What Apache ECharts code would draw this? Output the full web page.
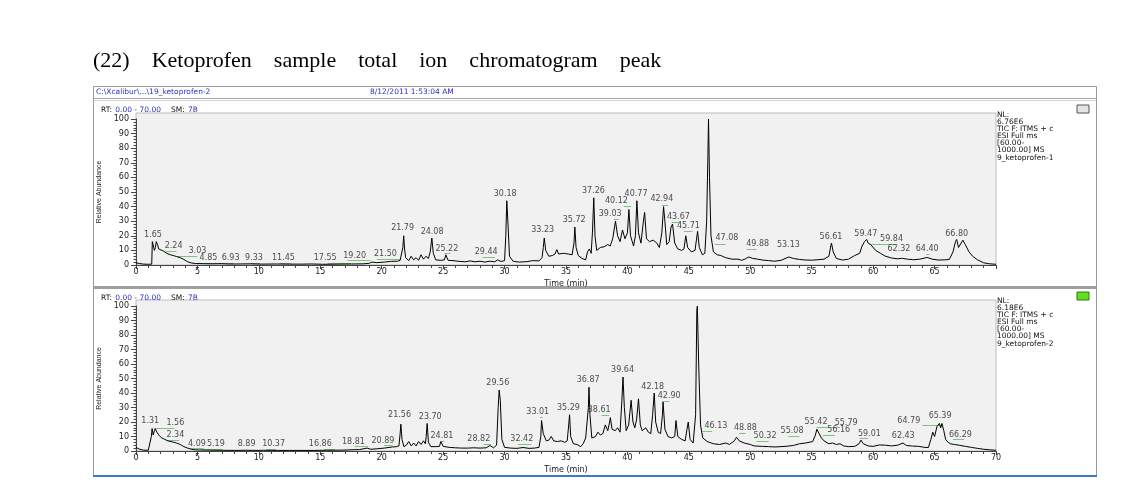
<!DOCTYPE html>
<html>
<head>
<meta charset="utf-8">
<script src="https://cdn.jsdelivr.net/npm/echarts@6/dist/echarts.min.js"></script>
<style>
html, body { margin: 0; padding: 0; background: #fff; }
#main { width: 1144px; height: 492px; }
</style>
</head>
<body>
<div id="main"></div>
<script>
// sample 1 total ion chromatogram, [time (min), relative abundance]
const tic1 = [
  [0,1.5],[0.3,1.0],[0.6,0.6],[1.0,0.5],[1.28,0.6],[1.33,16],[1.42,15],[1.5,10],[1.58,12],[1.65,16],
  [1.75,14],[1.85,11],[2.0,10.5],[2.24,9.5],[2.5,8],[2.8,7],[3.03,6.5],[3.3,5.8],[3.6,5],[3.9,3.8],
  [4.2,2.2],[4.5,1.4],[4.85,1.0],[5.5,0.9],[6.2,0.8],[6.93,0.9],[7.5,0.7],[8.2,0.7],[9.33,0.8],[10.2,0.6],
  [11.45,0.7],[12.5,0.6],[13.5,0.6],[14.3,0.7],[15.2,0.5],[16.5,0.6],[17.55,0.7],[18.5,0.8],[19.0,1.2],[19.2,2.0],
  [19.6,1.6],[20.2,2.0],[20.8,2.5],[21.3,2.6],[21.5,3.2],[21.65,4],[21.72,12],[21.79,20],[21.86,11],[21.95,5],
  [22.2,3],[22.4,6],[22.6,3.5],[22.8,5],[23.0,3.2],[23.2,7],[23.4,4],[23.6,6],[23.8,4.5],[23.95,9],
  [24.08,18.5],[24.2,8],[24.4,3.5],[24.8,3.2],[25.1,3.5],[25.22,7],[25.4,3.2],[25.8,3],[26.3,2.5],[26.8,2.2],
  [27.2,2.8],[27.6,2.2],[28.0,2.6],[28.4,2.0],[28.8,2.6],[29.2,2.2],[29.44,3.5],[29.7,2.4],[30.0,3],[30.1,20],
  [30.18,44],[30.28,28],[30.4,6],[30.7,2.5],[31.2,2],[31.8,2.3],[32.3,3],[32.8,2.8],[33.05,5],[33.15,12],
  [33.23,18.5],[33.35,10],[33.6,6],[33.9,6.5],[34.1,7.5],[34.25,10.5],[34.4,7.5],[34.8,8],[35.2,7.5],[35.5,7],
  [35.65,15],[35.72,26],[35.82,12],[36.0,6.5],[36.3,4.5],[36.6,3.5],[36.75,9],[36.9,11],[37.05,8],[37.15,22],
  [37.26,46],[37.36,20],[37.5,10],[37.8,12],[38.1,12.5],[38.4,14],[38.6,13],[38.8,18],[39.03,30],[39.2,20],
  [39.4,16],[39.6,24],[39.8,18],[40.0,22],[40.12,38],[40.25,20],[40.5,13],[40.65,20],[40.77,44],[40.9,22],
  [41.1,15],[41.3,30],[41.4,36],[41.55,18],[41.8,16],[42.1,17],[42.4,15],[42.6,12],[42.8,22],[42.94,40],
  [43.05,30],[43.2,14],[43.4,16],[43.55,26],[43.67,28],[43.85,15],[44.1,11],[44.4,10],[44.6,11],[44.75,20],
  [44.9,12],[45.2,9],[45.5,10],[45.71,23],[45.85,12],[46.1,7],[46.3,8],[46.45,30],[46.55,75],[46.6,100],
  [46.68,60],[46.8,20],[47.0,9],[47.3,7],[47.6,6.5],[48.0,5],[48.5,4],[49.0,4],[49.3,3.2],[49.6,4.2],
  [49.88,5.5],[50.2,4.5],[50.6,4],[51.0,3.4],[51.5,3],[52.0,2.6],[52.5,3.2],[53.13,5.5],[53.5,4.5],[54.0,3.8],
  [54.5,3.4],[55.0,3.3],[55.5,3.6],[56.0,4],[56.4,6],[56.55,13],[56.61,15],[56.75,9],[57.0,4.5],[57.5,3.4],
  [58.0,4],[58.5,6.5],[58.9,8],[59.1,13],[59.3,16],[59.47,17.5],[59.6,15],[59.8,14],[60.2,10],[60.6,8],
  [61.0,6],[61.5,4.8],[62.0,4.2],[62.32,4.6],[62.8,4],[63.3,3.6],[63.8,4],[64.4,5.2],[64.8,4],[65.3,3.4],
  [65.8,3.5],[66.2,3.8],[66.5,9],[66.7,16],[66.8,17.5],[66.95,12],[67.1,13],[67.3,17],[67.5,14],[67.8,9],
  [68.1,6],[68.5,3.5],[69.0,1.5],[69.5,0.8],[70,0.5]
]

// sample 2 total ion chromatogram
const tic2 = [
  [0,2.5],[0.3,1.2],[0.6,0.6],[1.0,0.5],[1.15,0.6],[1.25,10],[1.31,15.5],[1.4,11],[1.5,14],[1.56,15.5],
  [1.7,13],[1.9,10.5],[2.1,9],[2.34,8],[2.6,7],[3.0,6.2],[3.3,5.5],[3.6,4.5],[3.9,3],[4.2,2],
  [4.5,1.2],[4.8,0.8],[5.19,0.7],[6,0.6],[7,0.5],[8,0.4],[8.89,0.5],[10,0.4],[10.37,0.5],[11.5,0.4],
  [12.5,0.4],[13.5,0.4],[14.5,0.4],[15.5,0.5],[16.86,0.6],[17.5,0.8],[18.2,1.0],[18.81,2.0],[19.1,1.2],[19.6,1.5],
  [20.2,2.0],[20.89,2.8],[21.2,3],[21.4,3.5],[21.5,12],[21.56,18.5],[21.65,8],[21.8,3],[22.0,4],[22.2,6.5],
  [22.4,3.5],[22.6,5.5],[22.8,3.5],[23.0,6.5],[23.2,4.5],[23.4,7],[23.55,5],[23.62,10],[23.7,19],[23.8,6],
  [24.0,3],[24.4,3],[24.7,3.2],[24.81,6.5],[25.0,3.2],[25.5,2.5],[26,2.2],[26.5,2.0],[27,2],[27.5,2.2],
  [28,2],[28.5,2.2],[28.82,3.8],[29.1,2.2],[29.35,4],[29.48,30],[29.56,42],[29.65,35],[29.78,8],[30.0,2.5],
  [30.5,2],[31.0,1.8],[31.5,2.4],[32.0,1.8],[32.42,2],[32.8,2.5],[32.95,10],[33.01,21],[33.15,12],[33.4,7],
  [33.6,7.5],[33.8,10],[34.0,7],[34.3,6.5],[34.6,7],[34.9,6],[35.1,7],[35.22,18],[35.29,25],[35.38,10],
  [35.6,5],[35.9,4.5],[36.2,3],[36.4,5],[36.6,9],[36.75,8],[36.82,30],[36.87,44],[36.95,25],[37.1,9],
  [37.4,10],[37.6,13],[37.8,11],[38.0,12],[38.2,18],[38.4,14],[38.55,20],[38.61,23],[38.75,15],[39.0,14],
  [39.2,16],[39.4,13],[39.55,35],[39.64,51],[39.75,30],[39.9,14],[40.1,18],[40.3,35],[40.45,20],[40.6,16],
  [40.75,22],[40.9,36],[41.05,18],[41.2,14],[41.5,16],[41.7,13],[41.9,12],[42.05,25],[42.18,40],[42.3,20],
  [42.5,13],[42.7,12],[42.85,25],[42.9,34],[43.05,15],[43.3,10],[43.6,9],[43.85,10],[43.95,21],[44.1,10],
  [44.4,8],[44.7,7],[44.85,15],[44.95,20],[45.1,8],[45.35,5.5],[45.55,25],[45.65,97],[45.69,100],[45.8,60],
  [45.95,18],[46.13,9],[46.5,6.5],[47.0,5],[47.5,4.5],[48.0,5.5],[48.3,4.5],[48.7,7],[48.88,9.5],[49.1,7],
  [49.5,5.5],[50.0,4.5],[50.32,3.5],[51.0,3.2],[51.5,3],[52.0,2.8],[52.5,3],[53.0,3.3],[53.5,3.8],[54.0,5],
  [54.5,5.5],[55.08,6.5],[55.3,11],[55.42,15],[55.6,12],[55.79,9],[56.0,7],[56.16,6],[56.4,5],[56.7,5.5],
  [57.0,4.5],[57.3,5],[57.6,3.5],[58.0,3],[58.5,3.2],[58.85,5],[59.01,7.5],[59.2,5],[59.6,3.5],[60.0,3.2],
  [60.5,4.2],[61.0,4],[61.5,3.5],[62.0,4],[62.43,5.5],[62.7,3.8],[63.2,3.4],[63.7,3.2],[64.2,2.5],[64.5,2.4],
  [64.7,8],[64.85,13],[65.0,10],[65.2,17],[65.39,19],[65.5,16],[65.6,19],[65.75,14],[65.9,8],[66.1,6],
  [66.29,5],[66.6,4.5],[67.0,4],[67.5,3.2],[68.0,2.5],[68.5,1.8],[69.0,1.2],[69.5,0.8],[70,0.5]
]

// peak labels: [anchor time, anchor abundance, retention time text]
const peaks1 = [
  [1.38,17.2,'1.65'],[3.06,9.8,'2.24'],[5.0,6.4,'3.03'],[5.9,1.6,'4.85'],[7.7,1.6,'6.93'],[9.6,1.6,'9.33'],
  [12.0,1.6,'11.45'],[15.4,1.6,'17.55'],[17.8,3.4,'19.20'],[20.3,4.3,'21.50'],[21.7,22.2,'21.79'],
  [24.1,19.9,'24.08'],[25.3,8,'25.22'],[28.5,5.7,'29.44'],[30.05,45.3,'30.18'],[33.1,21,'33.23'],
  [35.66,28.1,'35.72'],[37.23,47.6,'37.26'],[38.6,32,'39.03'],[39.1,40.7,'40.12'],[40.7,45.3,'40.77'],
  [42.8,41.9,'42.94'],[44.15,29.7,'43.67'],[44.96,23.6,'45.71'],[46.46,101.8,'46.60'],[48.1,15.6,'47.08'],
  [50.6,11.4,'49.88'],[53.1,10.8,'53.13'],[56.57,16,'56.61'],[59.4,18.3,'59.47'],[61.5,14.9,'59.84'],
  [62.1,8,'62.32'],[64.4,8,'64.40'],[66.8,18.3,'66.80']
]
const peaks2 = [
  [1.16,17.5,'1.31'],[3.2,16.3,'1.56'],[3.2,7.8,'2.34'],[4.96,1.8,'4.09'],[6.5,1.8,'5.19'],[9.0,1.8,'8.89'],
  [11.2,1.8,'10.37'],[15.0,1.8,'16.86'],[17.7,3,'18.81'],[20.1,3.7,'20.89'],[21.45,21.8,'21.56'],
  [23.95,20.2,'23.70'],[24.9,7.1,'24.81'],[27.9,5.3,'28.82'],[29.45,43.9,'29.56'],[31.4,5.3,'32.42'],
  [32.7,23.7,'33.01'],[35.2,26.4,'35.29'],[36.8,46,'36.87'],[37.7,25.5,'38.61'],[39.6,52.9,'39.64'],
  [42.06,40.9,'42.18'],[43.4,34.7,'42.90'],[45.65,101.8,'45.69'],[47.2,14,'46.13'],[49.6,12.6,'48.88'],
  [51.2,7.6,'50.32'],[53.4,11,'55.08'],[55.35,17.2,'55.42'],[57.8,16.1,'55.79'],[57.2,11.5,'56.16'],
  [59.7,8.7,'59.01'],[62.45,7.6,'62.43'],[62.9,17.9,'64.79'],[65.45,21.4,'65.39'],[67.1,8.3,'66.29']
]

// green integration marks: [start, end, abundance]
const marks1 = [
  [2.4,3.3,9.6],[3.3,5.0,6.2],[5.0,6.6,1.0],[6.7,7.9,1.0],[9.3,10.1,1.0],[11.7,12.6,1.0],[15.6,17.5,1.0],
  [17.2,19.1,3.2],[19.6,21.5,4.2],[25.1,25.6,7.8],[28.2,29.2,5],[38.9,39.3,31],[39.7,40.3,40],
  [42.8,43.3,41],[43.6,44.2,29],[44.6,45.3,23],[47.1,48.0,14],[49.7,50.5,11],[59.7,62.0,14],[64.3,64.6,7.5]
]
const marks2 = [
  [1.6,3.1,15.6],[2.5,3.5,7.4],[4.4,5.5,2.1],[5.4,7.0,1.2],[10.6,11.4,1.2],[15.3,16.2,1.0],[17.8,18.9,3.5],
  [20.2,20.9,3.9],[24.8,25.1,7],[28.3,28.9,4.8],[31.1,32.2,5.0],[32.9,33.1,23],[37.9,38.5,25],[43.0,43.4,34],
  [46.1,46.9,13.8],[49.1,49.6,12.5],[50.5,51.5,7],[53.1,54.0,10.5],[55.4,57.3,16.5],[55.9,56.9,11],
  [58.9,59.6,8.5],[64.0,65.6,17.5],[66.5,67.4,8]
]

const info1 = ['NL:', '6.76E6', 'TIC F: ITMS + c', 'ESI Full ms', '[60.00-', '1000.00] MS', '9_ketoprofen-1']
const info2 = ['NL:', '6.18E6', 'TIC F: ITMS + c', 'ESI Full ms', '[60.00-', '1000.00] MS', '9_ketoprofen-2']

const chart = echarts.init(document.getElementById('main'))
const FONT = 'DejaVu Sans'
const AX = '#444'

function xAx(i, showMax) {
  return {
    type: 'value', gridIndex: i, min: 0, max: 70, interval: 5,
    name: 'Time (min)', nameLocation: 'middle', nameGap: 15,
    nameTextStyle: { fontFamily: FONT, fontSize: 8, color: '#222' },
    axisLine: { lineStyle: { color: AX, width: 1 } },
    axisTick: { length: 4, lineStyle: { color: AX } },
    minorTick: { show: true, splitNumber: 5, length: 3, lineStyle: { color: AX } },
    splitLine: { show: false },
    axisLabel: { fontFamily: FONT, fontSize: 8, color: '#222', margin: 3, showMaxLabel: showMax }
  }
}
function yAx(i) {
  return {
    type: 'value', gridIndex: i, min: 0, max: 100, interval: 10,
    name: 'Relative Abundance', nameLocation: 'middle', nameGap: 28, nameRotate: 90,
    nameTextStyle: { fontFamily: 'Liberation Sans', fontSize: 7, color: '#222' },
    axisLine: { show: true, lineStyle: { color: AX, width: 1 } },
    axisTick: { show: true, length: 5, lineStyle: { color: AX } },
    minorTick: { show: true, splitNumber: 5, length: 2.5, lineStyle: { color: AX } },
    splitLine: { show: false },
    axisLabel: { fontFamily: FONT, fontSize: 8, color: '#222', margin: 7 }
  }
}
function trace(data, i) {
  return {
    type: 'line', xAxisIndex: i, yAxisIndex: i, data: data, showSymbol: false, symbol: 'none',
    lineStyle: { color: '#000', width: 1 }, z: 3, animation: false
  }
}
function labels(list, i) {
  return {
    type: 'scatter', xAxisIndex: i, yAxisIndex: i, symbolSize: 1, silent: true,
    itemStyle: { color: 'transparent' },
    data: list.map(p => ({ value: [p[0], p[1]], name: p[2] })),
    label: { show: true, position: 'top', distance: 0, formatter: '{b}',
      fontFamily: FONT, fontSize: 8, color: '#222' },
    z: 4, animation: false
  }
}
function greens(list, i) {
  return {
    type: 'lines', coordinateSystem: 'cartesian2d', xAxisIndex: i, yAxisIndex: i,
    data: list.map(m => ({ coords: [[m[0], m[2]], [m[1], m[2]]] })),
    lineStyle: { color: '#7cc47c', width: 1, opacity: 1 }, z: 2, animation: false
  }
}
function infoText(lines, top) {
  return lines.map((s, k) => ({
    type: 'text', left: 997, top: top + k * 7.1,
    style: { text: s, font: '7.5px "DejaVu Sans"', fill: '#111' }
  }))
}
const rtRich = {
  k: { font: '7.5px "DejaVu Sans"', fill: '#111' },
  v: { font: '7.5px "DejaVu Sans"', fill: '#3030c0' }
}

const option = {
  animation: false,
  grid: [
    { left: 136, right: 148, top: 119, height: 146 },
    { left: 136, right: 148, top: 306, height: 145 }
  ],
  xAxis: [xAx(0, false), xAx(1, true)],
  yAxis: [yAx(0), yAx(1)],
  series: [
    greens(marks1, 0), greens(marks2, 1),
    trace(tic1, 0), trace(tic2, 1),
    labels(peaks1, 0), labels(peaks2, 1)
  ],
  graphic: [
    { type: 'text', left: 93, top: 50,
      style: { text: '(22)    Ketoprofen    sample    total    ion    chromatogram    peak',
        font: '22px "Liberation Serif"', fill: '#000' } },
    // window frame
    { type: 'rect', shape: { x: 93.5, y: 86.5, width: 1003, height: 389 }, z: -20,
      style: { fill: '#fff', stroke: '#9a9a9a', lineWidth: 1 } },
    { type: 'line', shape: { x1: 94, y1: 98.5, x2: 1096, y2: 98.5 }, z: -19, style: { stroke: '#a8a8a8', lineWidth: 1 } },
    { type: 'line', shape: { x1: 94, y1: 100.5, x2: 1096, y2: 100.5 }, z: -19, style: { stroke: '#d4d4d4', lineWidth: 1 } },
    { type: 'rect', shape: { x: 94, y: 286, width: 1002, height: 3 }, z: -19, style: { fill: '#a0a0a0' } },
    { type: 'rect', shape: { x: 93, y: 475, width: 1004, height: 2 }, z: -19, style: { fill: '#3b78d0' } },
    // plot backgrounds
    { type: 'rect', shape: { x: 136, y: 113, width: 860, height: 152 }, z: -10,
      style: { fill: '#f1f1f1', stroke: '#bdbdbd', lineWidth: 1 } },
    { type: 'rect', shape: { x: 136, y: 300, width: 860, height: 151 }, z: -10,
      style: { fill: '#f1f1f1', stroke: '#bdbdbd', lineWidth: 1 } },
    // header
    { type: 'text', left: 96, top: 88, style: { text: 'C:\\Xcalibur\\...\\19_ketoprofen-2', font: '7.5px "DejaVu Sans"', fill: '#3030c0' } },
    { type: 'text', left: 370, top: 88, style: { text: '8/12/2011 1:53:04 AM', font: '7.5px "DejaVu Sans"', fill: '#3030c0' } },
    { type: 'text', left: 101, top: 104, style: { text: '{k|RT:} {v|0.00 - 70.00}   {k|SM:} {v|7B}', rich: rtRich } },
    { type: 'text', left: 101, top: 292, style: { text: '{k|RT:} {v|0.00 - 70.00}   {k|SM:} {v|7B}', rich: rtRich } },
    // panel icons
    { type: 'rect', shape: { x: 1077, y: 105, width: 12, height: 8 }, style: { fill: '#e4e4e4', stroke: '#555', lineWidth: 1 } },
    { type: 'rect', shape: { x: 1077, y: 292, width: 12, height: 8 }, style: { fill: '#66dd22', stroke: '#2a7a10', lineWidth: 1 } }
  ].concat(infoText(info1, 111), infoText(info2, 297))
}
chart.setOption(option)
</script>
</body>
</html>
